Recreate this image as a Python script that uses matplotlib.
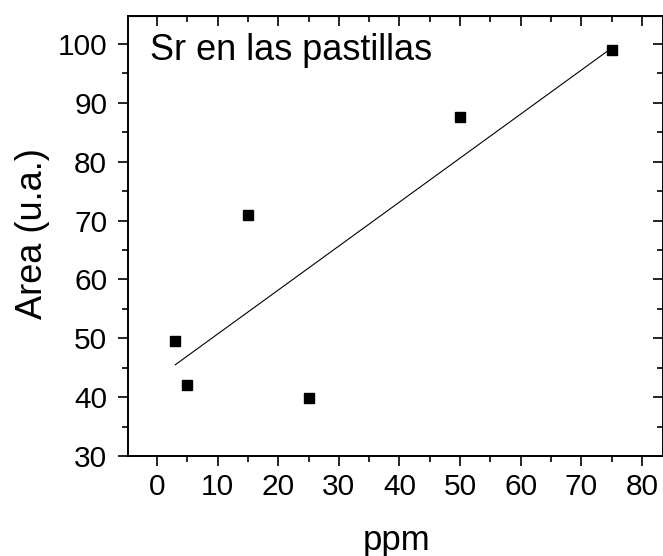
import numpy as np
import matplotlib
matplotlib.use("Agg")
import matplotlib.pyplot as plt
from matplotlib.ticker import MultipleLocator

## Data
ppm = [3, 5, 15, 25, 50, 75]
area = [49.6, 42.0, 70.9, 39.8, 87.6, 98.9]
x_ticks = [0, 10, 20, 30, 40, 50, 60, 70, 80]
y_ticks = [30, 40, 50, 60, 70, 80, 90, 100]

plt.rcParams['font.family'] = ['Liberation Sans', 'DejaVu Sans']

fig = plt.figure(figsize=(6.63, 5.56), dpi=100)
ax = fig.add_axes([128/663, 1 - 456/556, 534.5/663, 440/556])

ax.plot(ppm, area, 's', color='black', markersize=6.5, linestyle='none')

## Linear fit over the data range
slope, intercept = np.polyfit(ppm, area, 1)
xfit = np.array([min(ppm), max(ppm)])
ax.plot(xfit, slope * xfit + intercept, color='black', linewidth=0.8)

ax.set_xlim(-4.8, 83.4)
ax.set_ylim(30, 104.75)
ax.set_xticks(x_ticks)
ax.set_yticks(y_ticks)
ax.xaxis.set_minor_locator(MultipleLocator(5))
ax.yaxis.set_minor_locator(MultipleLocator(5))

for s in ax.spines.values():
    s.set_linewidth(1.4)

ax.tick_params(which='both', direction='out', width=1.2, labelsize=21.5,
               bottom=True, left=True, top=False, right=False)
ax.tick_params(which='major', length=7)
ax.tick_params(which='minor', length=4)
ax.tick_params(axis='x', which='major', pad=5)
ax.tick_params(axis='y', which='major', pad=8)

## Mirrored inward ticks on top and right
ax_top = ax.secondary_xaxis('top')
ax_top.set_xticks(x_ticks)
ax_top.xaxis.set_minor_locator(MultipleLocator(5))
ax_top.tick_params(which='both', direction='in', width=1.2, labeltop=False)
ax_top.tick_params(which='major', length=7)
ax_top.tick_params(which='minor', length=4)
ax_right = ax.secondary_yaxis('right')
ax_right.set_yticks(y_ticks)
ax_right.yaxis.set_minor_locator(MultipleLocator(5))
ax_right.tick_params(which='both', direction='in', width=1.2, labelright=False)
ax_right.tick_params(which='major', length=7)
ax_right.tick_params(which='minor', length=4)

ax.set_xlabel('ppm', fontsize=25, va='baseline')
ax.xaxis.set_label_coords(0.503, -0.2136)
ax.set_ylabel('Area (u.a.)', fontsize=26, va='baseline')
ax.yaxis.set_label_coords(-0.161, 0.505)

ax.text(0.041, 0.9, 'Sr en las pastillas', transform=ax.transAxes,
        fontsize=26, va='baseline', ha='left')

fig.savefig('out.png', dpi=100)
